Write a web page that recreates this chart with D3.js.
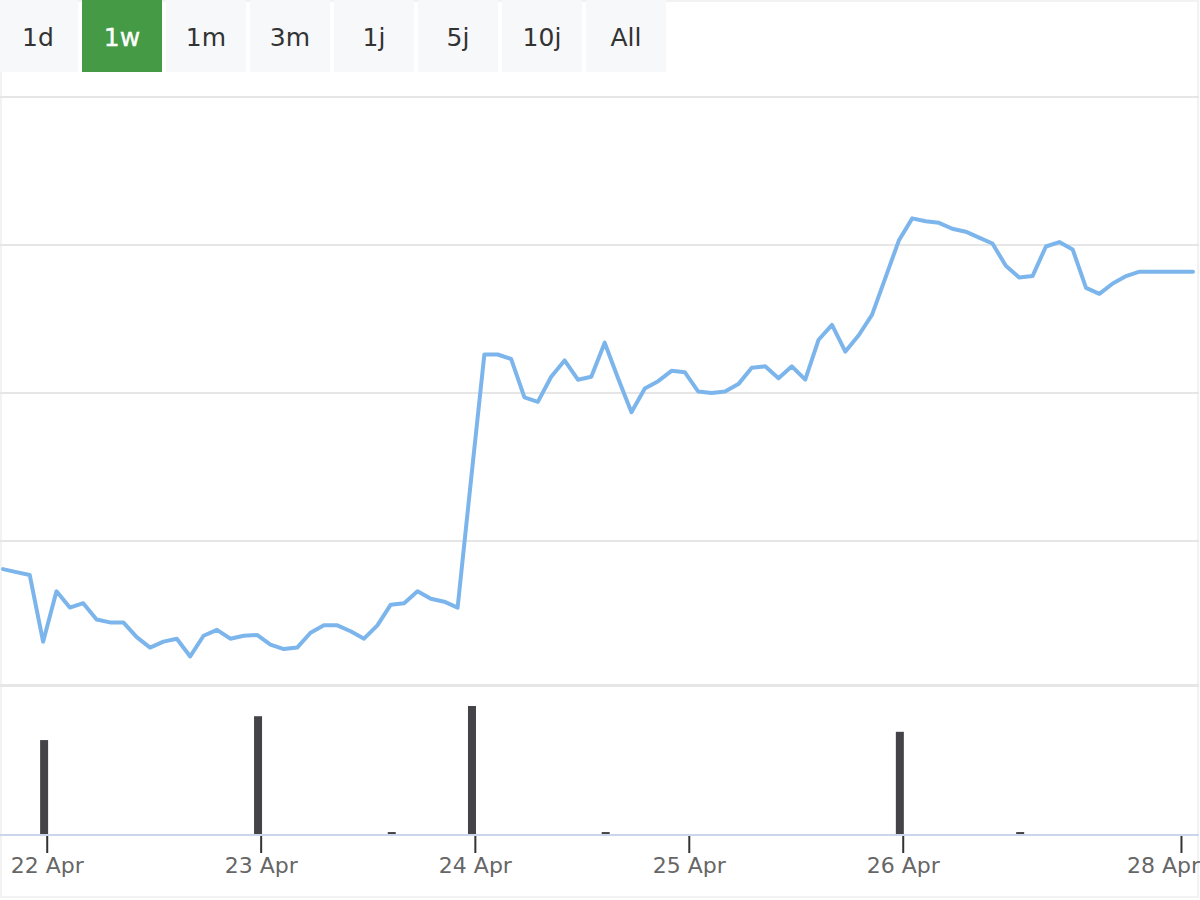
<!DOCTYPE html>
<html>
<head>
<meta charset="utf-8">
<script src="https://cdn.jsdelivr.net/npm/d3@7"></script>
<style>
  html, body { margin: 0; padding: 0; background: #ffffff; }
  svg { display: block; font-family: "DejaVu Sans", sans-serif; }
</style>
</head>
<body>
<svg id="chart" width="1200" height="900"></svg>
<script>
// ---- data ----
const rangeLabels = ["1d", "1w", "1m", "3m", "1j", "5j", "10j", "All"];
const selectedRange = "1w";

const priceValues = [
  20.81, 20.79, 20.77, 20.32, 20.66, 20.55, 20.58, 20.47, 20.45, 20.45,
  20.35, 20.28, 20.32, 20.34, 20.22, 20.36, 20.40, 20.34, 20.36, 20.365,
  20.30, 20.27, 20.28, 20.38, 20.43, 20.43, 20.39, 20.34, 20.43, 20.57,
  20.58, 20.66, 20.61, 20.59, 20.55, 21.41, 22.26, 22.26, 22.23, 21.97,
  21.94, 22.11, 22.22, 22.09, 22.11, 22.34, 22.10, 21.87, 22.03, 22.08,
  22.15, 22.14, 22.01, 22.00, 22.01, 22.06, 22.17, 22.18, 22.10, 22.18,
  22.09, 22.36, 22.46, 22.28, 22.39, 22.53, 22.78, 23.03, 23.18, 23.16,
  23.15, 23.11, 23.09, 23.05, 23.01, 22.86, 22.78, 22.79, 22.99, 23.02,
  22.97, 22.71, 22.67, 22.74, 22.79, 22.82, 22.82, 22.82, 22.82, 22.82
];

const volumeIndex = [3, 19, 29, 35, 45, 67, 76];
const volumeValues = [965, 1210, 20, 1315, 20, 1050, 20];

const tickIndex = [3.27, 19.27, 35.29, 51.29, 67.29, 88.1];
const tickLabels = ["22 Apr", "23 Apr", "24 Apr", "25 Apr", "26 Apr", "28 Apr"];

const priceGrid = [21, 22, 23, 24];

// ---- drawing ----
const svg = d3.select("#chart");

// outer faint frame
svg.append("rect")
  .attr("x", 1).attr("y", 1).attr("width", 1197).attr("height", 896)
  .attr("fill", "none").attr("stroke", "#f2f2f2").attr("stroke-width", 2);

const x = d3.scaleLinear().domain([0, priceValues.length - 1]).range([3, 1193]);
const yPrice = d3.scaleLinear().domain([20, 24]).range([689, 97]);
const yVol = d3.scaleLinear().domain([0, 1500]).range([834, 688]);

// range selector buttons
const btn = svg.append("g").attr("class", "buttons")
  .selectAll("g").data(rangeLabels).join("g")
  .attr("transform", (d, i) => `translate(${-2 + 84 * i},0)`);
btn.append("rect")
  .attr("width", 80).attr("height", 72)
  .attr("fill", d => d === selectedRange ? "#449a45" : "#f7f8fa");
btn.append("text")
  .attr("x", 40).attr("y", 46)
  .attr("text-anchor", "middle")
  .attr("font-size", 25)
  .attr("fill", d => d === selectedRange ? "#ffffff" : "#333333")
  .attr("stroke", d => d === selectedRange ? "#ffffff" : "none")
  .attr("stroke-width", 0.4)
  .text(d => d);

// price gridlines
svg.append("g").selectAll("line").data(priceGrid).join("line")
  .attr("x1", 0).attr("x2", 1199)
  .attr("y1", d => yPrice(d)).attr("y2", d => yPrice(d))
  .attr("stroke", "#e6e6e6").attr("stroke-width", 2);

// pane separator
svg.append("line")
  .attr("x1", 0).attr("x2", 1199).attr("y1", 685.5).attr("y2", 685.5)
  .attr("stroke", "#e6e6e6").attr("stroke-width", 3);

// price line
const line = d3.line().x((d, i) => x(i)).y(d => yPrice(d));
svg.append("path")
  .datum(priceValues)
  .attr("d", line)
  .attr("fill", "none")
  .attr("stroke", "#7cb5ec")
  .attr("stroke-width", 4)
  .attr("stroke-linejoin", "round")
  .attr("stroke-linecap", "round");

// volume bars
svg.append("g").selectAll("rect").data(volumeValues).join("rect")
  .attr("x", (d, i) => x(volumeIndex[i]) - 3)
  .attr("width", 8)
  .attr("y", d => yVol(d))
  .attr("height", d => yVol(0) - yVol(d))
  .attr("fill", "#434348");

// x axis line
svg.append("line")
  .attr("x1", 0).attr("x2", 1199).attr("y1", 835).attr("y2", 835)
  .attr("stroke", "#ccd6eb").attr("stroke-width", 2);

// x axis ticks and labels
const axis = d3.axisBottom(x)
  .tickValues(tickIndex)
  .tickFormat((d, i) => tickLabels[i])
  .tickSize(17);
const ax = svg.append("g").attr("transform", "translate(0,836)").call(axis);
ax.select(".domain").remove();
ax.selectAll(".tick line").attr("stroke", "#333333").attr("stroke-width", 2);
ax.selectAll(".tick text")
  .attr("y", 37).attr("dy", 0)
  .attr("x", (d, i) => i === tickIndex.length - 1 ? -18 : 0)
  .attr("fill", "#666666")
  .attr("font-size", 22)
  .attr("font-family", "DejaVu Sans, sans-serif");
</script>
</body>
</html>
